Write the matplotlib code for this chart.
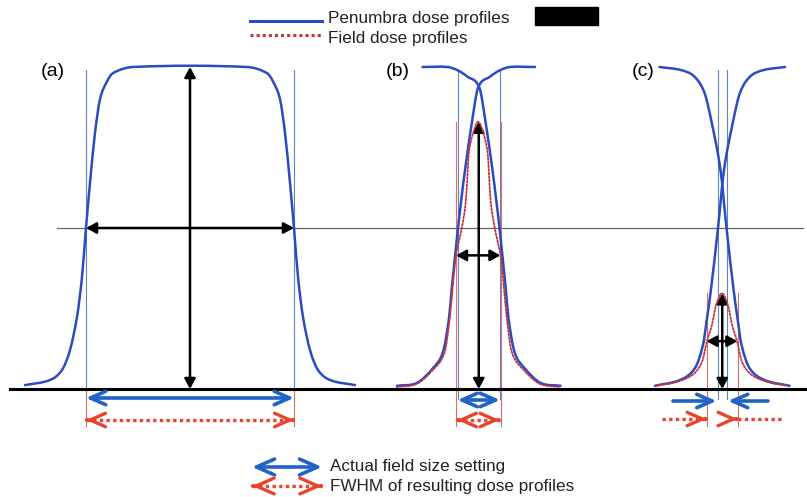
import matplotlib.pyplot as plt
from matplotlib.patches import Rectangle, PathPatch
from matplotlib.path import Path
import numpy as np

plt.rcParams['font.family'] = ['Liberation Sans', 'DejaVu Sans']

# panels: jaw edges (actual field size setting) and FWHM of the resulting profile
panel_labels = ['(a)', '(b)', '(c)']
edge_left = [86, 457.5, 717.5]
edge_right = [294, 500, 727]
fwhm_left = [86, 456, 706.5]
fwhm_right = [294, 500.5, 737.5]
peak_dose = [1.0, 0.83, 0.297]

# penumbra shapes: distance from jaw edge (+ = inside field) vs relative dose
pen_a_off = [-61, -36, -24, -16, -9, -4, 0, 4, 9, 14, 21, 27, 47]
pen_a_dose = [0.012, 0.028, 0.059, 0.121, 0.224, 0.348, 0.5, 0.64, 0.795, 0.9, 0.955, 0.981, 1.0]

pen_b_off = [-60.5, -40.5, -24.5, -14.5, -8.5, -5.5, 0.5, 3.5, 7.5, 14.5, 20.5, 32.5, 42.5, 52.5, 77.5]
pen_b_dose = [0.01, 0.019, 0.065, 0.115, 0.22, 0.32, 0.5, 0.58, 0.68, 0.83, 0.935, 0.97, 0.99, 1.0, 1.0]

pen_c_off = [-62.5, -37.5, -22.5, -14.5, -10.5, -6.5, 0.5, 6.5, 15.5, 22.5, 32.5, 45.5, 67.5]
pen_c_dose = [0.01, 0.028, 0.065, 0.137, 0.22, 0.31, 0.5, 0.68, 0.83, 0.92, 0.97, 0.99, 1.0]

# field dose profiles (half profile): distance from profile centre vs relative dose
field_b_off = [-81.5, -61.5, -45.5, -33.5, -28.5, -25.5, -22.5, -16.5, -12.5, -10.5, -9.5, -6.5, 0]
field_b_dose = [0.006, 0.016, 0.059, 0.115, 0.22, 0.32, 0.41, 0.5, 0.58, 0.68, 0.73, 0.78, 0.83]

field_c_off = [-65, -49, -30, -20, -15, -10, -6, 0]
field_c_dose = [0.012, 0.019, 0.043, 0.084, 0.149, 0.2, 0.26, 0.297]

BLUE_CURVE = '#2b4bc2'
BLUE_ARROW = '#1f62c8'
RED_ARROW = '#e8432c'
RED_CURVE = '#c8323c'
DOTS = (0, (1, 1))

fig = plt.figure(figsize=(8.07, 4.97), dpi=100)
ax = fig.add_axes([0, 0, 1, 1])
PX = 1 / 322  # one pixel in dose units
ax.set_xlim(0, 807)
ax.set_ylim(-108 * PX, 389 * PX)
ax.axis('off')


def row(y):
    # pixel row -> dose coordinate (for layout of labels only)
    return (389 - y) * PX


def smooth_curve(xs, ys, **kw):
    # smooth Hermite/Bezier curve through the read points (x monotonic)
    x = np.asarray(xs, float)
    y = np.asarray(ys, float)
    n = len(x)
    m = np.empty(n)
    m[0] = (y[1] - y[0]) / (x[1] - x[0])
    m[-1] = (y[-1] - y[-2]) / (x[-1] - x[-2])
    m[1:-1] = (y[2:] - y[:-2]) / (x[2:] - x[:-2])
    verts = [(x[0], y[0])]
    codes = [Path.MOVETO]
    for k in range(n - 1):
        h = x[k + 1] - x[k]
        verts += [(x[k] + h / 3, y[k] + m[k] * h / 3),
                  (x[k + 1] - h / 3, y[k + 1] - m[k + 1] * h / 3),
                  (x[k + 1], y[k + 1])]
        codes += [Path.CURVE4] * 3
    ax.add_patch(PathPatch(Path(verts, codes), fill=False, capstyle='round', **kw))


def solid_arrow(x0, x1, y, color, style='<->', lw=2.6, ms=22):
    ax.annotate('', xy=(x1, y), xytext=(x0, y),
                arrowprops=dict(arrowstyle=style + ',head_length=0.5,head_width=0.22',
                                color=color, lw=lw, mutation_scale=ms,
                                shrinkA=0, shrinkB=0))


def dotted_arrow(x0, x1, y, color, both=True, lw=2.4, ms=22):
    ax.plot([x0, x1], [y, y], color=color, lw=lw, linestyle=DOTS, solid_capstyle='butt')
    tips = [x1, x0] if both else [x1]
    for tip in tips:
        back = tip - 1 if tip == x1 else tip + 1
        ax.annotate('', xy=(tip, y), xytext=(back, y),
                    arrowprops=dict(arrowstyle='->,head_length=0.5,head_width=0.22',
                                    color=color, lw=lw, mutation_scale=ms,
                                    shrinkA=0, shrinkB=0))


def black_arrow(xy0, xy1):
    ax.annotate('', xy=xy1, xytext=xy0,
                arrowprops=dict(arrowstyle='<|-|>,head_length=0.55,head_width=0.3',
                                color='black', lw=1.8, mutation_scale=11,
                                shrinkA=0, shrinkB=0))


# reference lines: zero dose and 50 %
ax.plot([10, 807], [0, 0], color='black', lw=2.2, zorder=3)
ax.plot([57, 803], [0.5, 0.5], color='#666666', lw=0.9, zorder=1)

pen_tables = [(pen_a_off, pen_a_dose), (pen_b_off, pen_b_dose), (pen_c_off, pen_c_dose)]
field_tables = [None, (field_b_off, field_b_dose), (field_c_off, field_c_dose)]

for i, label in enumerate(panel_labels):
    eL, eR = edge_left[i], edge_right[i]
    fL, fR = fwhm_left[i], fwhm_right[i]
    off, dose = np.array(pen_tables[i][0]), np.array(pen_tables[i][1])

    # guide lines at jaw edges and FWHM
    for x in (eL, eR):
        ax.plot([x, x], [0.99, -0.03], color='#5a86c4', lw=0.8, zorder=1)
    red_top = peak_dose[i] if i > 0 else 0.0
    for x in (fL, fR):
        ax.plot([x, x], [red_top, row(426)], color='#e46a6a', lw=0.8, zorder=1)

    # penumbra dose profiles
    blue_kw = dict(edgecolor=BLUE_CURVE, lw=1.8, zorder=4)
    if i == 0:
        xs = np.concatenate([eL + off, eR - off[::-1]])
        ds = np.concatenate([dose, dose[::-1]])
        smooth_curve(xs, ds, **blue_kw)
    else:
        smooth_curve(eL + off, dose, **blue_kw)
        smooth_curve(eR - off, dose, **blue_kw)

        foff, fdose = np.array(field_tables[i][0]), np.array(field_tables[i][1])
        c = (fL + fR) / 2
        xs = np.concatenate([c + foff, c - foff[::-1][1:]])
        ds = np.concatenate([fdose, fdose[::-1][1:]])
        smooth_curve(xs, ds, edgecolor=RED_CURVE, lw=1.3, linestyle=DOTS, zorder=5)

    # measurement arrows
    cx = (eL + eR) / 2
    black_arrow((cx, 0), (cx, peak_dose[i]))
    black_arrow((fL, peak_dose[i] / 2), (fR, peak_dose[i] / 2))

    ax.text(41 + [0, 345, 591][i], row(72), label, fontsize=14, va='center', ha='left')

# field size / FWHM arrows below the baseline
solid_arrow(edge_left[0], edge_right[0], row(398), BLUE_ARROW)
dotted_arrow(fwhm_left[0], fwhm_right[0], row(420), RED_ARROW)
solid_arrow(edge_left[1], edge_right[1], row(400), BLUE_ARROW)
dotted_arrow(fwhm_left[1] + 1, fwhm_right[1] - 1, row(420), RED_ARROW)
# panel (c): jaws overlap, arrows point inwards
solid_arrow(673, edge_left[2] - 1, row(401), BLUE_ARROW, style='->')
solid_arrow(768, edge_right[2] + 1, row(401), BLUE_ARROW, style='->')
dotted_arrow(662, fwhm_left[2], row(419), RED_ARROW, both=False)
dotted_arrow(781, fwhm_right[2], row(419), RED_ARROW, both=False)

# top legend
ax.plot([250, 322], [row(21), row(21)], color=BLUE_CURVE, lw=2.2)
ax.plot([250, 322], [row(35), row(35)], color=RED_CURVE, lw=2.2, linestyle=DOTS)
ax.text(328, row(18), 'Penumbra dose profiles', fontsize=12.3, va='center', color='#222222')
ax.text(328, row(38), 'Field dose profiles', fontsize=12.3, va='center', color='#222222')
ax.add_patch(Rectangle((535, row(25)), 63, row(7) - row(25), color='black'))

# bottom legend
solid_arrow(252, 322, row(467), BLUE_ARROW, ms=26)
dotted_arrow(252, 322, row(486), RED_ARROW, ms=26)
ax.text(330, row(466), 'Actual field size setting', fontsize=12.3, va='center', color='#222222')
ax.text(330, row(486), 'FWHM of resulting dose profiles', fontsize=12.3, va='center', color='#222222')

fig.savefig('out.png', dpi=100)
